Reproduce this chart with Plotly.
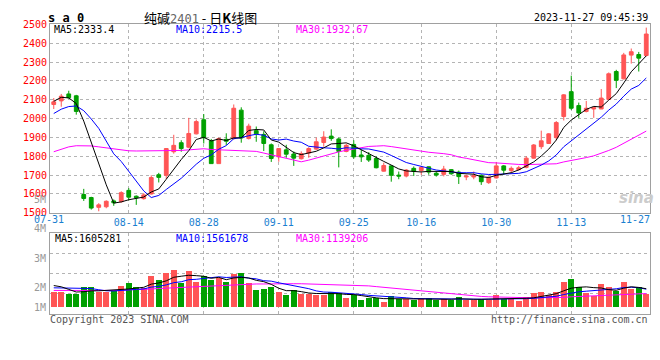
import pandas as pd
import plotly.graph_objects as go

# ---------------- data ----------------
_days = pd.bdate_range("2023-07-31", "2023-11-27")
_holiday = pd.date_range("2023-09-29", "2023-10-06")
dates = [d.strftime("%m-%d") for d in _days if d not in _holiday]

opens = [2075, 2094, 2131, 2121, 1597, 1581, 1529, 1532, 1563, 1559,
         1619, 1588, 1575, 1600, 1702, 1699, 1824, 1872, 1848, 1919,
         1994, 1882, 1761, 1890, 1894, 2045, 1894, 1936, 1916, 1861,
         1797, 1834, 1812, 1787, 1817, 1838, 1873, 1907, 1892, 1826,
         1863, 1807, 1805, 1788, 1721, 1749, 1700, 1695, 1736, 1724,
         1744, 1710, 1704, 1729, 1716, 1690, 1690, 1699, 1660, 1685,
         1749, 1724, 1729, 1741, 1790, 1851, 1868, 1899, 2011, 2143,
         2069, 2038, 2051, 2051, 2102, 2250, 2211, 2337, 2340, 2335]
highs = [2109, 2131, 2148, 2126, 1627, 1585, 1551, 1566, 1571, 1614,
         1631, 1592, 1604, 1699, 1712, 1843, 1914, 1885, 2004, 1995,
         2024, 1892, 1899, 1922, 2075, 2060, 1973, 1958, 1933, 1868,
         1844, 1861, 1826, 1826, 1848, 1899, 1933, 1943, 1899, 1868,
         1885, 1834, 1822, 1800, 1766, 1753, 1719, 1732, 1746, 1749,
         1746, 1719, 1749, 1732, 1724, 1702, 1719, 1704, 1693, 1770,
         1753, 1746, 1749, 1800, 1865, 1936, 1923, 1987, 2130, 2228,
         2085, 2094, 2063, 2157, 2245, 2259, 2349, 2372, 2354, 2483]
lows = [2051, 2063, 2106, 2021, 1563, 1517, 1508, 1524, 1537, 1554,
        1566, 1542, 1570, 1597, 1661, 1680, 1814, 1824, 1843, 1916,
        1868, 1761, 1761, 1860, 1889, 1872, 1889, 1877, 1828, 1770,
        1771, 1792, 1749, 1783, 1792, 1834, 1851, 1882, 1741, 1821,
        1787, 1770, 1770, 1736, 1719, 1665, 1678, 1688, 1695, 1702,
        1702, 1692, 1693, 1702, 1653, 1673, 1678, 1648, 1653, 1682,
        1702, 1712, 1724, 1736, 1787, 1838, 1865, 1885, 1990, 2046,
        2004, 2033, 2004, 2051, 2099, 2162, 2208, 2292, 2250, 2330]
closes = [2089, 2119, 2111, 2038, 1576, 1525, 1542, 1561, 1553, 1607,
          1583, 1580, 1595, 1687, 1688, 1841, 1858, 1841, 1921, 1984,
          1899, 1761, 1894, 1880, 2055, 1897, 1960, 1919, 1868, 1788,
          1841, 1811, 1790, 1814, 1841, 1877, 1902, 1894, 1826, 1858,
          1797, 1797, 1780, 1739, 1751, 1699, 1695, 1727, 1721, 1741,
          1716, 1700, 1732, 1707, 1692, 1695, 1697, 1665, 1688, 1749,
          1726, 1736, 1739, 1790, 1860, 1882, 1919, 1979, 2126, 2055,
          2030, 2055, 2058, 2109, 2238, 2203, 2338, 2355, 2321, 2449]
volumes = [1340000, 1340000, 1200000, 1200000, 1740000, 1740000, 1340000, 1340000, 1400000, 1850000,
           2110000, 1740000, 1680000, 2790000, 2370000, 3050000, 3310000, 2140000, 3220000, 2190000,
           2790000, 2420000, 2540000, 2190000, 2960000, 3050000, 2140000, 1510000, 1600000, 1770000,
           1340000, 1080000, 1510000, 1170000, 1170000, 1110000, 1110000, 1340000, 1250000, 830000,
           1050000, 660000, 770000, 830000, 480000, 1000000, 710000, 710000, 630000, 710000,
           830000, 630000, 710000, 630000, 910000, 630000, 630000, 710000, 660000, 1080000,
           710000, 710000, 540000, 910000, 1280000, 1340000, 1080000, 1340000, 2190000, 2450000,
           1740000, 1250000, 1000000, 2020000, 1740000, 1450000, 2190000, 1600000, 1740000, 1170000]

# moving-average values before enough history exists
ma5_head = [2092, 2113, 2110, 2080]
ma10_head = [2027, 2050, 2064, 2067, 2042, 1998, 1948, 1880, 1813]
ma30_head = [1824, 1838, 1850, 1856, 1856, 1855, 1850, 1844, 1839, 1834,
             1829, 1828, 1828, 1828, 1828, 1828, 1829, 1831, 1834, 1838,
             1840, 1836, 1834, 1834, 1833, 1831, 1829, 1826, 1817]
vol_ma5_head = [1910000, 1800000, 1570000, 1340000]
vol_ma10_head = [1710000, 1710000, 1680000, 1650000, 1650000, 1650000, 1540000, 1450000, 1430000]
vol_ma30_head = [1480000, 1480000, 1480000, 1480000, 1480000, 1480000, 1450000, 1450000, 1450000, 1480000,
                 1540000, 1540000, 1570000, 1600000, 1650000, 1680000, 1710000, 1740000, 1820000, 1850000,
                 1850000, 1880000, 1880000, 1910000, 2000000, 2020000, 2020000, 2050000, 2050000]

price_ticks = [1500, 1600, 1700, 1800, 1900, 2000, 2100, 2200, 2300, 2400, 2500]
date_ticks = ["07-31", "08-14", "08-28", "09-11", "09-25", "10-16", "10-30", "11-13", "11-27"]
vol_axis_labels = ["5M", "4M", "3M", "2M", "1M"]
price_ma_legend = ["MA5:2333.4", "MA10:2215.5", "MA30:1932.67"]
vol_ma_legend = ["MA5:1605281", "MA10:1561678", "MA30:1139206"]
title_name, title_code, title_rest = "纯碱", "2401", " - 日K线图"
timestamp = "2023-11-27 09:45:39"


def moving_avg(vals, n, head):
    out = list(head)
    for i in range(len(head), len(vals)):
        out.append(sum(vals[i - n + 1:i + 1]) / n)
    return out


ma5 = moving_avg(closes, 5, ma5_head)
ma10 = moving_avg(closes, 10, ma10_head)
ma30 = moving_avg(closes, 30, ma30_head)
vma5 = moving_avg(volumes, 5, vol_ma5_head)
vma10 = moving_avg(volumes, 10, vol_ma10_head)
vma30 = moving_avg(volumes, 30, vol_ma30_head)

# ---------------- style ----------------
W, H = 660, 360
RED = "#ff5555"
GREEN = "#00a000"
MONO = "DejaVu Sans Mono"
GRID = "#b4b4b4"
BORDER = "#a0a0a0"
DATE_BLUE = "#1a7fd0"

def px(x):
    return x / W

def py(y):
    return 1 - y / H

X0, X1 = 50, 650
MAIN_TOP, MAIN_BOT = 19, 213.3
VOL_TOP, VOL_BOT = 234, 318
VOL_BASE = 310.7          # pixel row of zero volume
VOL_PX = 85500            # volume units per pixel
vol_min = -(VOL_BOT - VOL_BASE) * VOL_PX
vol_max = (VOL_BASE - VOL_TOP) * VOL_PX
vol_grid = [vol_min + k * (vol_max - vol_min) / 4 for k in (1, 2, 3)]

fig = go.Figure()
fig.add_trace(go.Candlestick(
    x=dates, open=opens, high=highs, low=lows, close=closes,
    increasing=dict(line=dict(color=RED, width=1), fillcolor=RED),
    decreasing=dict(line=dict(color=GREEN, width=1), fillcolor=GREEN),
    whiskerwidth=0, xaxis="x", yaxis="y", hoverinfo="skip"))
for vals, col in ((ma30, "#ff00ff"), (ma10, "#0000ff"), (ma5, "#000000")):
    fig.add_trace(go.Scatter(x=dates, y=vals, mode="lines",
                             line=dict(color=col, width=1), xaxis="x", yaxis="y",
                             hoverinfo="skip"))

bar_colors = [RED if c >= o else GREEN for o, c in zip(opens, closes)]
fig.add_trace(go.Bar(x=dates, y=volumes, marker=dict(color=bar_colors, line=dict(width=0)),
                     width=0.75, xaxis="x2", yaxis="y2", hoverinfo="skip"))
for vals, col in ((vma30, "#ff00ff"), (vma10, "#0000ff"), (vma5, "#000000")):
    fig.add_trace(go.Scatter(x=dates, y=vals, mode="lines",
                             line=dict(color=col, width=1), xaxis="x2", yaxis="y2",
                             hoverinfo="skip"))

inner_dates = date_ticks[1:-1]
common_x = dict(type="category", range=[-0.5, len(dates) - 0.5],
                showgrid=True, gridcolor=GRID, griddash="dot", gridwidth=1,
                showline=True, mirror=True, linecolor=BORDER, linewidth=1,
                ticks="", tickvals=inner_dates, ticktext=inner_dates,
                zeroline=False, fixedrange=True, domain=[px(X0), px(X1)])

annotations = []

def ann(text, x, y, xanchor="left", color="#000", size=10, family=MONO):
    annotations.append(dict(text=text, x=px(x), y=py(y), xref="paper", yref="paper",
                            xanchor=xanchor, yanchor="middle", showarrow=False,
                            borderpad=0,
                            font=dict(family=family, size=size, color=color)))

# header
ann("<b>s a 0</b>", 47, 12, size=12)
ann(title_name + '<span style="color:#666666;font-family:' + MONO + ';font-size:12px">'
    + title_code + "</span>" + title_rest.replace("K", "<b>K</b>"),
    200, 12, xanchor="center", size=13, family="Noto Sans CJK SC")
ann(timestamp, 649, 12, xanchor="right", size=10)

# legends
for text, x, col in zip(price_ma_legend, (53, 175, 295), ("#000000", "#0000ff", "#ff00ff")):
    ann(text, x, 24.5, color=col)
for text, x, col in zip(vol_ma_legend, (54, 175, 295), ("#000000", "#0000ff", "#ff00ff")):
    ann(text, x, 239.5, color=col)

# end date labels
ann(date_ticks[0], 49, 220.5, xanchor="center", color=DATE_BLUE)
ann(date_ticks[-1], 635, 220.5, xanchor="center", color=DATE_BLUE)

# volume axis labels
for text, y in zip(vol_axis_labels, (200, 230, 260, 290, 311)):
    ann(text, 47, y, xanchor="right", color="#999999")

# footer
ann("Copyright 2023 SINA.COM", 49, 323, color="#555555")
ann("http://finance.sina.com.cn", 649, 323, xanchor="right", color="#555555")

# watermark
ann("<b><i>sina</i></b>", 636, 198, xanchor="center", color="#cccccc", size=15,
    family="DejaVu Sans")

fig.update_layout(
    width=W, height=H, autosize=False,
    margin=dict(l=0, r=0, t=0, b=0),
    paper_bgcolor="white", plot_bgcolor="white",
    showlegend=False, boxgap=0.28,
    xaxis=dict(common_x, anchor="y", rangeslider=dict(visible=False),
               showticklabels=True,
               tickfont=dict(family=MONO, size=10, color=DATE_BLUE)),
    yaxis=dict(domain=[py(MAIN_BOT), py(MAIN_TOP)], range=[1500, 2500],
               tickvals=price_ticks, ticktext=[str(v) for v in price_ticks],
               tickfont=dict(family=MONO, size=10, color="#ff0000"),
               showgrid=True, gridcolor=GRID, griddash="dot", gridwidth=1,
               showline=True, mirror=True, linecolor=BORDER, linewidth=1,
               ticks="", zeroline=False, fixedrange=True),
    xaxis2=dict(common_x, anchor="y2", showticklabels=False),
    yaxis2=dict(domain=[py(VOL_BOT), py(VOL_TOP)], range=[vol_min, vol_max],
                tickvals=vol_grid, showticklabels=False,
                showgrid=True, gridcolor=GRID, griddash="dot", gridwidth=1,
                showline=True, mirror=True, linecolor=BORDER, linewidth=1,
                ticks="", zeroline=False, fixedrange=True),
    annotations=annotations,
    bargap=0,
)

fig.write_html("out.html", config={"displayModeBar": False, "staticPlot": True},
               post_script="document.body.style.margin='0';")
